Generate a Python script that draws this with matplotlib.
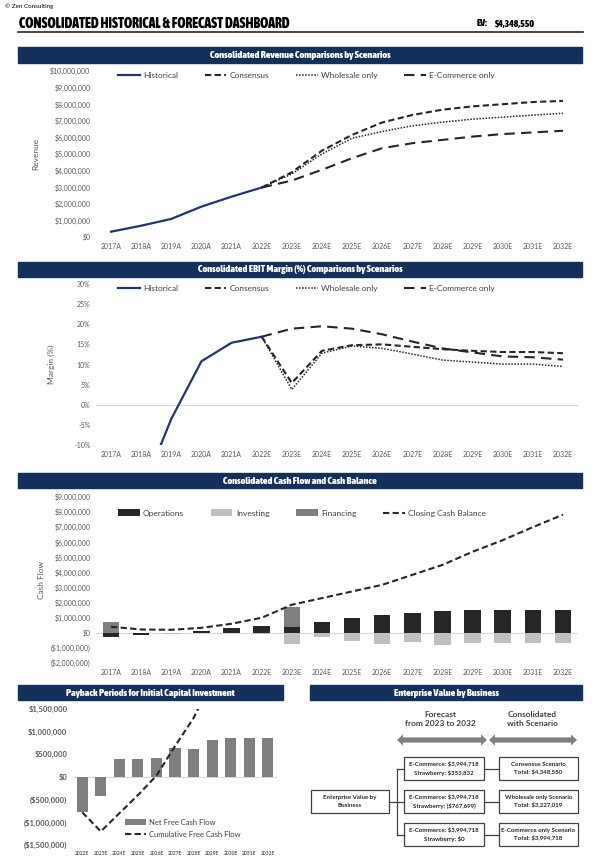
import numpy as np
import matplotlib
matplotlib.use('Agg')
import matplotlib.pyplot as plt
from matplotlib.patches import Rectangle, Polygon
from matplotlib.ticker import FuncFormatter, MultipleLocator
from matplotlib import font_manager
from matplotlib.font_manager import FontProperties

# page size in pixels
W, H = 600, 867
NAVY = '#132f5a'
TICK_GREY = '#595959'
BODY = ['Lato', 'DejaVu Sans']


def find_bold_narrow():
    found = []
    for f in font_manager.fontManager.ttflist:
        name = f.name.lower()
        if 'narrow' not in name and 'condensed' not in name:
            continue
        w = f.weight
        if isinstance(w, str):
            w = font_manager.weight_dict.get(w, 400)
        if w >= 700 and f.style == 'normal':
            rank = 0 if 'liberation' in name else 1
            found.append((rank, f.name, f.fname))
    found.sort()
    return found[0][2] if found else None


NARROW_FILE = find_bold_narrow()


def narrow(size):
    if NARROW_FILE:
        return FontProperties(fname=NARROW_FILE, size=size)
    return FontProperties(family='DejaVu Sans', weight='bold', size=size * 0.8)


# data (dollar values in millions)
years = ['2017A', '2018A', '2019A', '2020A', '2021A', '2022E', '2023E', '2024E',
         '2025E', '2026E', '2027E', '2028E', '2029E', '2030E', '2031E', '2032E']

rev_hist = [0.32, 0.68, 1.09, 1.83, 2.43, 2.98]
rev_consensus = [2.98, 3.9, 5.2, 6.15, 6.9, 7.35, 7.67, 7.87, 8.0, 8.13, 8.2]
rev_wholesale = [2.98, 3.8, 5.0, 5.95, 6.35, 6.7, 6.92, 7.1, 7.22, 7.34, 7.45]
rev_ecom = [2.98, 3.4, 4.05, 4.75, 5.35, 5.65, 5.85, 6.05, 6.2, 6.3, 6.4]

mgn_hist = [-35.0, -22.0, -3.5, 10.8, 15.4, 16.9]
mgn_consensus = [16.9, 5.4, 13.4, 14.8, 15.0, 14.4, 13.8, 13.4, 13.1, 13.1, 12.8]
mgn_wholesale = [16.9, 3.8, 12.8, 14.6, 14.0, 12.6, 11.1, 10.6, 10.1, 10.1, 9.5]
mgn_ecom = [16.9, 18.9, 19.5, 18.9, 17.5, 15.7, 14.0, 13.0, 12.0, 11.8, 11.2]

cf_operations = [-0.28, -0.15, -0.02, 0.15, 0.33, 0.42, 0.37, 0.73, 0.97, 1.19,
                 1.30, 1.43, 1.50, 1.52, 1.52, 1.52]
cf_investing = [-0.02, -0.02, -0.06, -0.02, -0.02, -0.05, -0.77, -0.29, -0.55, -0.75,
                -0.62, -0.80, -0.66, -0.66, -0.66, -0.66]
cf_financing = [0.70, 0, 0, 0, 0, 0, 1.34, 0, 0, 0, 0, 0, 0, 0, 0, 0]
cash_closing = [0.40, 0.22, 0.20, 0.33, 0.60, 1.00, 1.86, 2.30, 2.74, 3.18,
                3.84, 4.50, 5.37, 6.14, 7.00, 7.83]

pb_years = years[5:]
net_fcf = [-0.78, -0.42, 0.40, 0.40, 0.43, 0.65, 0.62, 0.82, 0.85, 0.86, 0.86]
cum_fcf = [-0.78, -1.20, -0.80, -0.40, 0.03, 0.68, 1.30, 2.12, 2.97, 3.83, 4.69]

ev_total = '$4,348,550'
ev_mid = ['E-Commerce: $3,994,718\nStrawberry: $353,832',
          'E-Commerce: $3,994,718\nStrawberry: ($767,699)',
          'E-Commerce: $3,994,718\nStrawberry: $0']
ev_right = ['Consensus Scenario\nTotal: $4,348,550',
            'Wholesale only Scenario\nTotal: $3,227,019',
            'E-Commerce only Scenario\nTotal: $3,994,718']

M = 1_000_000


def money(v, pos=None):
    v = int(round(v))
    return f'${v:,.0f}' if v >= 0 else f'(${-v:,.0f})'


def pct(v, pos=None):
    return f'{v:.0f}%'


def px_axes(fig, x0, y_top, x1, y_bot):
    return fig.add_axes([x0 / W, 1 - y_bot / H, (x1 - x0) / W, (y_bot - y_top) / H])


def style_axes(ax, fmt, size=5):
    for s in ax.spines.values():
        s.set_visible(False)
    ax.tick_params(length=0, labelsize=size, colors=TICK_GREY, pad=4)
    for lab in ax.get_xticklabels() + ax.get_yticklabels():
        lab.set_family(BODY)
    ax.yaxis.set_major_formatter(FuncFormatter(fmt))
    ax.axhline(0, color='#d9d9d9', lw=0.8, zorder=0)


def banner(bg, x0, x1, y0, y1, text):
    bg.add_patch(Rectangle((x0, y0), x1 - x0, y1 - y0, color=NAVY))
    bg.text((x0 + x1) / 2, (y0 + y1) / 2 + 0.5, text, color='white', ha='center',
            va='center', fontproperties=narrow(7.3))


def dbl_arrow(bg, x0, x1, y):
    hl, sh, hh = 6, 2.6, 5.5
    pts = [(x0, y), (x0 + hl, y - hh), (x0 + hl, y - sh), (x1 - hl, y - sh), (x1 - hl, y - hh),
           (x1, y), (x1 - hl, y + hh), (x1 - hl, y + sh), (x0 + hl, y + sh), (x0 + hl, y + hh)]
    bg.add_patch(Polygon(pts, closed=True, color='#7f7f7f', lw=0))


def box(bg, x0, y0, x1, y1, text):
    bg.add_patch(Rectangle((x0, y0), x1 - x0, y1 - y0, fc='white', ec='#404040', lw=0.9))
    bg.text((x0 + x1) / 2, (y0 + y1) / 2, text, ha='center', va='center', fontsize=4.4,
            fontweight='bold', color='#262626', family=BODY, linespacing=1.7)


def main():
    fig = plt.figure(figsize=(W / 100, H / 100), dpi=100)
    bg = fig.add_axes([0, 0, 1, 1])
    bg.set_xlim(0, W)
    bg.set_ylim(H, 0)
    bg.axis('off')

    # header
    bg.text(5, 6, '\u00a9 Zen Consulting', fontsize=4.5, va='center', family=BODY)
    bg.text(19, 24, 'CONSOLIDATED HISTORICAL & FORECAST DASHBOARD', va='center',
            fontproperties=narrow(9.9))
    bg.text(477, 24, 'EV:', va='center', fontproperties=narrow(7))
    bg.text(495, 24, ev_total, va='center', fontproperties=narrow(7))
    bg.plot([18, 583], [31.5, 31.5], color='#262626', lw=1.2)

    banner(bg, 18, 582, 47, 63, 'Consolidated Revenue Comparisons by Scenarios')
    banner(bg, 18, 582, 262, 277, 'Consolidated EBIT Margin (%) Comparisons by Scenarios')
    banner(bg, 18, 582, 473, 488, 'Consolidated Cash Flow and Cash Balance')
    banner(bg, 18, 283, 685, 700, 'Payback Periods for Initial Capital Investment')
    banner(bg, 310, 582, 685, 700, 'Enterprise Value by Business')

    x_all = np.arange(len(years))
    x_fc = x_all[5:]
    leg_kw = dict(ncol=4, frameon=False, handlelength=2.6, columnspacing=3.2,
                  handletextpad=0.4, labelcolor='#404040', prop={'family': BODY, 'size': 6})

    # revenue
    ax = px_axes(fig, 96, 71, 578, 237)
    ax.plot(x_all[:6], np.array(rev_hist) * M, color='#1f3864', lw=1.6, label='Historical')
    ax.plot(x_fc, np.array(rev_consensus) * M, color='#262626', lw=1.5, ls=(0, (3, 1.6)), label='Consensus')
    ax.plot(x_fc, np.array(rev_wholesale) * M, color='#262626', lw=1.1, ls=(0, (1, 1)), label='Wholesale only')
    ax.plot(x_fc, np.array(rev_ecom) * M, color='#262626', lw=1.5, ls=(0, (5, 3)), label='E-Commerce only')
    ax.set_ylim(0, 10 * M)
    ax.yaxis.set_major_locator(MultipleLocator(M))
    ax.set_xlim(-0.5, len(years) - 0.5)
    ax.set_xticks(x_all, years)
    style_axes(ax, money)
    ax.set_ylabel('Revenue', fontsize=6, color=TICK_GREY, family=BODY, labelpad=8)
    ax.legend(loc='upper left', bbox_to_anchor=(0.03, 1.04), **leg_kw)

    # margin
    ax = px_axes(fig, 96, 284, 578, 445)
    ax.plot(x_all[:6], mgn_hist, color='#1f3864', lw=1.6, label='Historical')
    ax.plot(x_fc, mgn_consensus, color='#262626', lw=1.5, ls=(0, (3, 1.6)), label='Consensus')
    ax.plot(x_fc, mgn_wholesale, color='#262626', lw=1.1, ls=(0, (1, 1)), label='Wholesale only')
    ax.plot(x_fc, mgn_ecom, color='#262626', lw=1.5, ls=(0, (5, 3)), label='E-Commerce only')
    ax.set_ylim(-10, 30)
    ax.yaxis.set_major_locator(MultipleLocator(5))
    ax.set_xlim(-0.5, len(years) - 0.5)
    ax.set_xticks(x_all, years)
    style_axes(ax, pct)
    ax.set_ylabel('Margin (%)', fontsize=6, color=TICK_GREY, family=BODY, labelpad=14)
    ax.legend(loc='upper left', bbox_to_anchor=(0.03, 1.04), **leg_kw)

    # cash flow
    ax = px_axes(fig, 96, 497, 578, 663)
    ops = np.array(cf_operations) * M
    inv = np.array(cf_investing) * M
    fin = np.array(cf_financing) * M
    pos_base = np.zeros(len(years))
    neg_base = np.zeros(len(years))
    handles = []
    for vals, col, lab in [(ops, '#262626', 'Operations'), (inv, '#bfbfbf', 'Investing'),
                           (fin, '#7f7f7f', 'Financing')]:
        bottom = np.where(vals >= 0, pos_base, neg_base)
        handles.append(ax.bar(x_all, vals, 0.55, bottom=bottom, color=col, label=lab, zorder=2))
        pos_base = pos_base + np.clip(vals, 0, None)
        neg_base = neg_base + np.clip(vals, None, 0)
    line, = ax.plot(x_all, np.array(cash_closing) * M, color='#262626', lw=1.5, ls=(0, (3, 1.6)),
                    label='Closing Cash Balance', zorder=3)
    handles.append(line)
    ax.set_ylim(-2 * M, 9 * M)
    ax.yaxis.set_major_locator(MultipleLocator(M))
    ax.set_xlim(-0.5, len(years) - 0.5)
    ax.set_xticks(x_all, years)
    style_axes(ax, money)
    ax.set_ylabel('Cash Flow', fontsize=6, color=TICK_GREY, family=BODY, labelpad=4)
    ax.legend(handles=handles, loc='upper left', bbox_to_anchor=(0.03, 0.97), handleheight=0.9,
              **leg_kw)

    # payback
    ax = px_axes(fig, 73, 709, 277, 845)
    xp = np.arange(len(pb_years))
    bars = ax.bar(xp, np.array(net_fcf) * M, 0.6, color='#7f7f7f', label='Net Free Cash Flow', zorder=2)
    cum, = ax.plot(xp, np.array(cum_fcf) * M, color='#262626', lw=1.5, ls=(0, (3, 1.6)),
                   label='Cumulative Free Cash Flow', zorder=3)
    ax.set_ylim(-1.5 * M, 1.5 * M)
    ax.yaxis.set_major_locator(MultipleLocator(0.5 * M))
    ax.set_xlim(-0.5, len(pb_years) - 0.5)
    ax.set_xticks(xp, pb_years)
    style_axes(ax, money, size=5.5)
    ax.tick_params(axis='x', labelsize=3.6)
    for lab in ax.get_yticklabels() + ax.get_xticklabels():
        lab.set_fontweight('bold')
    ax.legend(handles=[bars, cum], loc='lower left', bbox_to_anchor=(0.22, 0.0), frameon=False,
              handlelength=2.8, handleheight=0.8, handletextpad=0.4, labelspacing=0.7,
              labelcolor='#404040', prop={'family': BODY, 'size': 5.5})

    # enterprise value diagram
    bg.text(440, 719, 'Forecast\nfrom 2023 to 2032', ha='center', va='center', fontsize=6,
            fontweight='bold', color='#404040', family=BODY, linespacing=1.4)
    bg.text(532, 719, 'Consolidated\nwith Scenario', ha='center', va='center', fontsize=6,
            fontweight='bold', color='#404040', family=BODY, linespacing=1.4)
    dbl_arrow(bg, 397, 487, 740)
    dbl_arrow(bg, 489, 577, 740)

    rows = [(757, 780), (790, 813), (823, 846)]
    box(bg, 311, 790, 389, 813, 'Enterprise Value by\nBusiness')
    mids = [(y0 + y1) / 2 for y0, y1 in rows]
    bg.plot([389, 397], [mids[1], mids[1]], color='#404040', lw=0.9)
    bg.plot([397, 397], [mids[0], mids[2]], color='#404040', lw=0.9)
    for (y0, y1), m, t_mid, t_right in zip(rows, mids, ev_mid, ev_right):
        bg.plot([397, 404], [m, m], color='#404040', lw=0.9)
        bg.plot([484, 499], [m, m], color='#404040', lw=0.9)
        box(bg, 404, y0, 484, y1, t_mid)
        box(bg, 499, y0, 578, y1, t_right)

    fig.savefig('out.png', dpi=100)


if __name__ == '__main__':
    main()
